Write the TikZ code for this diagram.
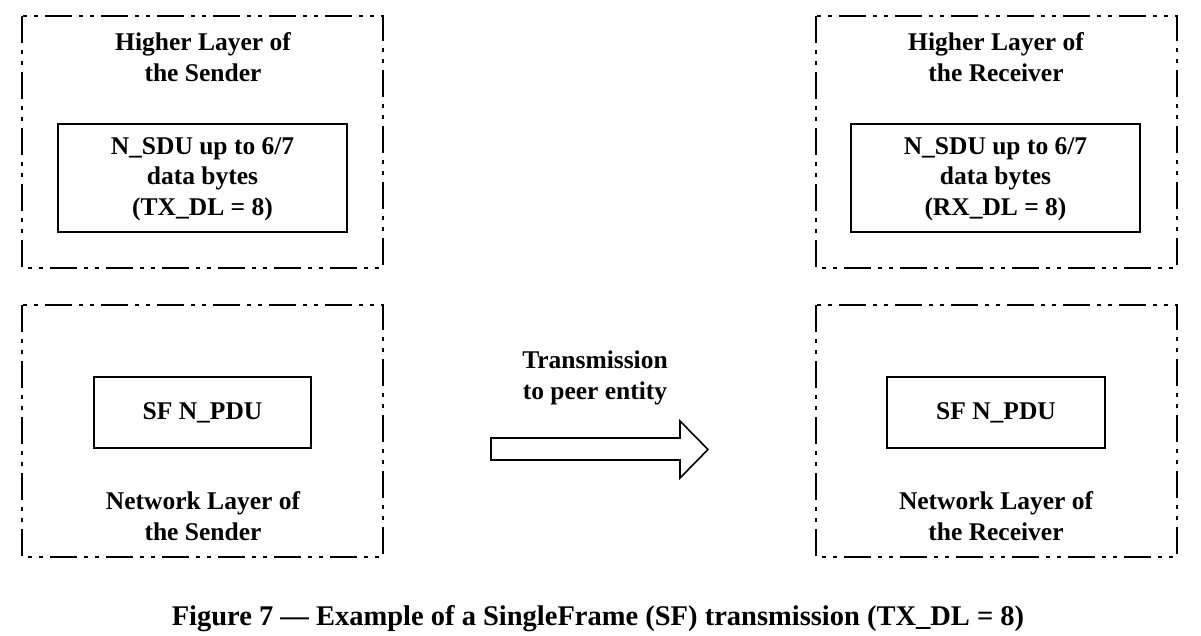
\documentclass[tikz,border=0pt]{standalone}
\usepackage{fontspec}
\setmainfont{Liberation Serif}
\usetikzlibrary{shapes.arrows}
\begin{document}
\begin{tikzpicture}[x=1pt,y=-1pt,
  frame/.style={draw, line width=2.6pt, dash pattern=on 27pt off 7pt on 4pt off 7pt on 4pt off 7pt},
  inner/.style={draw, line width=2.2pt},
  lbl/.style={font=\bfseries\fontsize{25.5}{30.5}\selectfont, align=center, inner sep=0pt},
  capt/.style={font=\bfseries\fontsize{28.5}{32}\selectfont, inner sep=0pt}]
\useasboundingbox (0,0) rectangle (1201,635);
% outer frames
\draw[frame] (22,16) rectangle (383,268);
\draw[frame] (22,305) rectangle (383,557);
\draw[frame] (816,16) rectangle (1177,268);
\draw[frame] (816,305) rectangle (1177,557);
% titles
\node[lbl] (hs) at (203,57) {Higher Layer of\\the Sender};
\node[lbl] (hr) at (996,57) {Higher Layer of\\the Receiver};
\node[lbl] (ns) at (203,516) {Network Layer of\\the Sender};
\node[lbl] (nr) at (996,516) {Network Layer of\\the Receiver};
% inner boxes
\draw[inner] (58,124) rectangle (347,232);
\node[lbl] (sdus) at (202.5,179) {N\_SDU up to 6/7\\data bytes\\(TX\_DL = 8)};
\draw[inner] (851,124) rectangle (1140,232);
\node[lbl] (sdur) at (995.5,179) {N\_SDU up to 6/7\\data bytes\\(RX\_DL = 8)};
\draw[inner] (94,377) rectangle (311,448);
\node[lbl] (pdus) at (202.5,413) {SF N\_PDU};
\draw[inner] (887,377) rectangle (1105,448);
\node[lbl] (pdur) at (996,413) {SF N\_PDU};
% arrow
\node[lbl] (tx) at (595,378) {Transmission\\to peer entity};
\draw[line width=1.6pt] (491,438) -- (680,438) -- (680,421) -- (708,449.5) -- (680,478) -- (680,460) -- (491,460) -- cycle;
% caption
\node[capt] (cap) at (598,619) {Figure 7 — Example of a SingleFrame (SF) transmission (TX\_DL = 8)};
\end{tikzpicture}
\end{document}
